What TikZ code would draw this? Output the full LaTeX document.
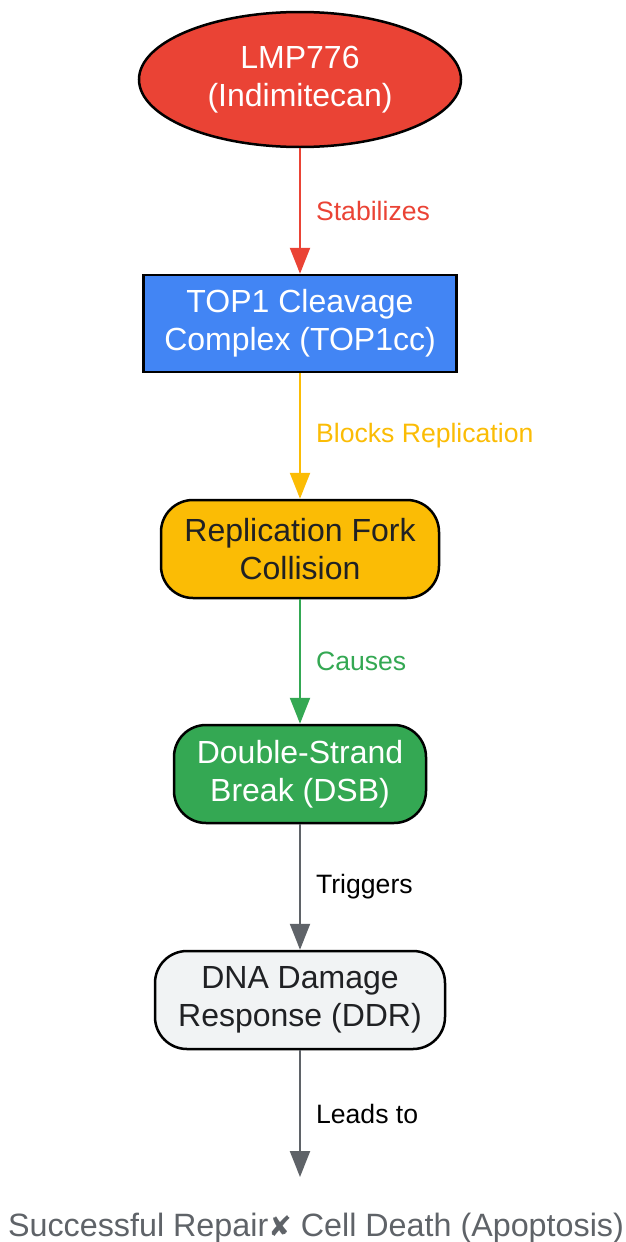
\documentclass[tikz,border=0pt]{standalone}
\usepackage{fontspec}
\setmainfont{Liberation Sans}
\newfontfamily\marksfont{DejaVu Sans}
\usepackage{xcolor}
\usetikzlibrary{arrows.meta,shapes.geometric}
\definecolor{drugred}{HTML}{EA4335}
\definecolor{topblue}{HTML}{4285F4}
\definecolor{forkyellow}{HTML}{FBBC05}
\definecolor{breakgreen}{HTML}{34A853}
\definecolor{ddrgray}{HTML}{F1F3F4}
\definecolor{inkdark}{HTML}{202124}
\definecolor{edgegray}{HTML}{5F6368}
\tikzstyle{edge} = [draw,line width=2.2pt,-{Triangle[width=20pt,length=26pt]}]

\begin{document}
\begin{tikzpicture}
[x=1pt,y=-1pt,
box/.style={draw=black,line width=2.5pt,inner sep=0pt,align=center,
  font=\fontsize{32}{38}\selectfont},
drug/.style={box,shape=ellipse,fill=drugred,text=white},
cleave/.style={box,shape=rectangle,fill=topblue,text=white},
fork/.style={box,rounded corners=32pt,fill=forkyellow,text=inkdark},
dsb/.style={box,rounded corners=32pt,fill=breakgreen,text=white},
ddr/.style={box,rounded corners=32pt,fill=ddrgray,text=inkdark},
edgeLabel/.style={midway,anchor=west,inner sep=0pt,xshift=15pt,
  font=\fontsize{26.6}{30}\selectfont}]

\useasboundingbox (0,0) rectangle (625,1242);

%% nodes or vertices
\foreach \nodename/\y/\w/\h/\look/\txt in {
drug/79.5/322/135/drug/{LMP776\\(Indimitecan)},
top1cc/323.5/313/97/cleave/{TOP1 Cleavage\\Complex (TOP1cc)},
fork/549/278/98/fork/{Replication Fork\\Collision},
dsb/774/252/98/dsb/{Double-Strand\\Break (DSB)},
ddr/1000/290/98/ddr/{DNA Damage\\Response (DDR)}}
{
\node (\nodename) at (300,\y) [\look,minimum width=\w pt,minimum height=\h pt] {\txt};
}

\coordinate (outcome end) at (300,1177);
\node (outcome) at (316,1236) [anchor=base,inner sep=0pt,text=edgegray,
  font=\fontsize{32.3}{36}\selectfont]
  {Successful Repair{\marksfont\fontsize{28}{30}\selectfont ✘} Cell Death (Apoptosis)};

%% edges or lines
\foreach \startnode/\endnode/\hue/\ink/\lbl in {
drug/top1cc/drugred/drugred/Stabilizes,
top1cc/fork/forkyellow/forkyellow/Blocks Replication,
fork/dsb/breakgreen/breakgreen/Causes,
dsb/ddr/edgegray/black/Triggers,
ddr/outcome end/edgegray/black/Leads to}
{
\draw[edge,\hue] (\startnode) -- node[edgeLabel,text=\ink] {\lbl} (\endnode);
}

\end{tikzpicture}
\end{document}
